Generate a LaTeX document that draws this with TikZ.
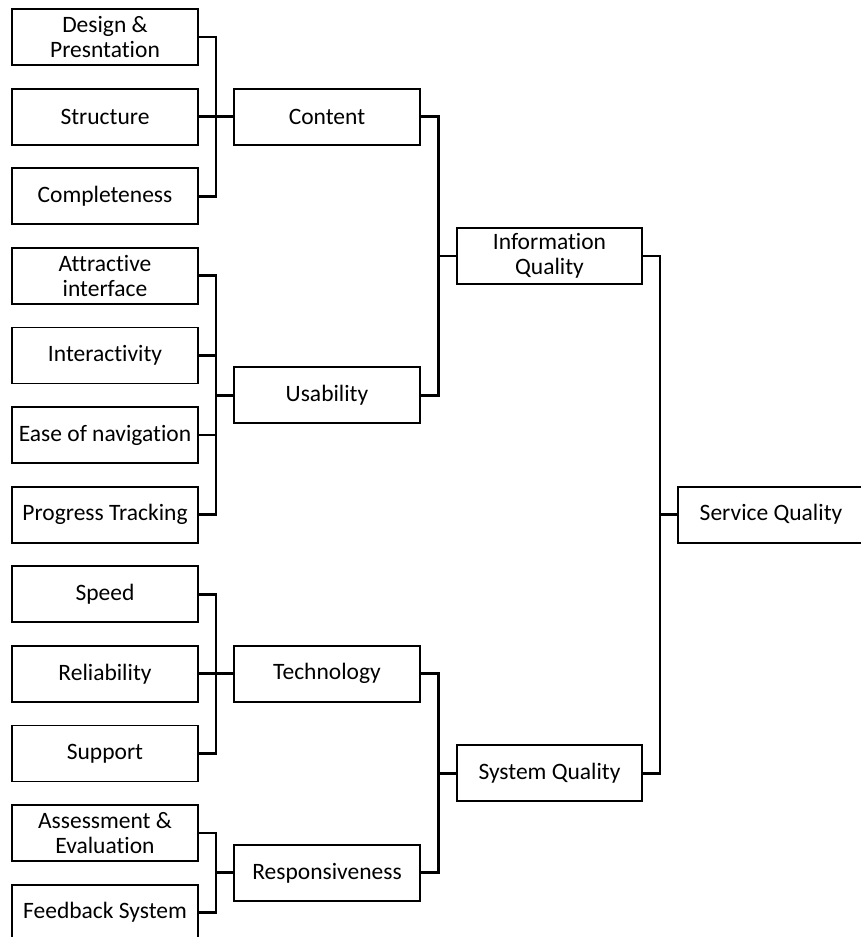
\documentclass[tikz,border=0pt]{standalone}
\usepackage{fontspec}
\setmainfont[Ligatures={NoCommon}]{Carlito}
\usetikzlibrary{calc}
\begin{document}
\begin{tikzpicture}[x=1pt,y=-1pt,
  box/.style={draw, line width=1.8pt, minimum width=186pt, minimum height=56pt,
    align=center, inner sep=0pt, font=\fontsize{23.5}{25}\selectfont},
  conn/.style={line width=2.8pt},
  elbow/.style={to path={-| ($(\tikztostart)!.5!(\tikztotarget)$) |- (\tikztotarget)}}]
\useasboundingbox (0,0) rectangle (861,937);
% leaves
\node[box] (l1) at (105,37.0) {Design \&\\Presntation};
\node[box] (l2) at (105,116.6) {Structure};
\node[box] (l3) at (105,196.2) {Completeness};
\node[box] (l4) at (105,275.8) {Attractive\\interface};
\node[box] (l5) at (105,355.4) {Interactivity};
\node[box] (l6) at (105,435.0) {Ease of navigation};
\node[box] (l7) at (105,514.6) {Progress Tracking};
\node[box] (l8) at (105,594.2) {Speed};
\node[box] (l9) at (105,673.8) {Reliability};
\node[box] (l10) at (105,753.4) {Support};
\node[box] (l11) at (105,833.0) {Assessment \&\\Evaluation};
\node[box] (l12) at (105,912.6) {Feedback System};
% middle
\node[box] (content) at (327,116.6) {Content};
\node[box] (usab) at (327,395.2) {Usability};
\node[box] (tech) at (327,673.8) {Technology};
\node[box] (resp) at (327,872.8) {Responsiveness};
% upper
\node[box, minimum width=185pt] (info) at (549.5,255.9) {Information\\Quality};
\node[box, minimum width=185pt] (sys) at (549.5,773.3) {System Quality};
% top
\node[box] (serv) at (771,514.6) {Service Quality};
% connectors
\foreach \a/\b in {l1/content,l2/content,l3/content,
  l4/usab,l5/usab,l6/usab,l7/usab,
  l8/tech,l9/tech,l10/tech,
  l11/resp,l12/resp,
  content/info,usab/info,tech/sys,resp/sys,
  info/serv,sys/serv}
  \draw[conn] (\a.east) to[elbow] (\b.west);
\end{tikzpicture}
\end{document}
